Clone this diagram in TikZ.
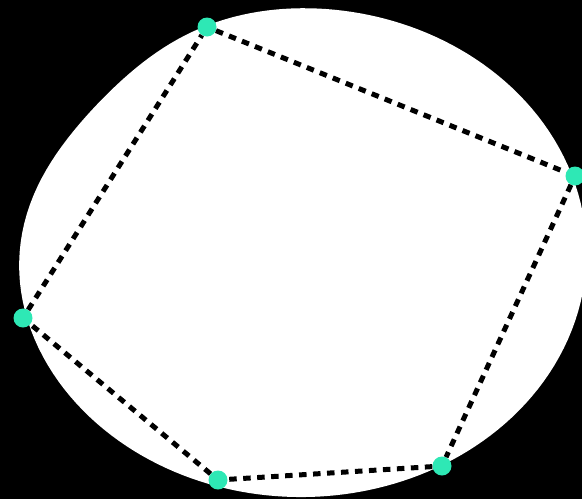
\documentclass[tikz,border=0pt]{standalone}
\usepackage{xcolor}
\usepackage{tikz}
\usetikzlibrary{positioning, calc}

\definecolor{mint}{RGB}{46,232,181}

\begin{document}
\begin{tikzpicture}[
  x=1pt, y=-1pt,
  dot/.style={circle, fill=mint, inner sep=0pt, minimum size=19pt},
  dashline/.style={line width=5pt, dash pattern=on 7.5pt off 6.5pt},
  declare function={
    erad(\t)=698.2/sqrt((2.445*cos(\t))^2+(2.855*sin(\t))^2);
    brad(\t)=erad(\t)*(1-0.064*exp(-((\t-214)/28)^2));
  }
]
  % Background
  \fill[black] (0,0) rectangle (582,499);
  \useasboundingbox (0,0) rectangle (582,499);
  \clip (0,0) rectangle (582,499);

  % White blob (ellipse, flattened at top left)
  \fill[white] plot[domain=34:394, samples=181, variable=\t]
    ({301+brad(\t)*cos(\t)}, {252.5+brad(\t)*sin(\t)}) -- cycle;

  % Corner dots
  \node[dot] (top)    at (207,27)  {};
  \node[dot] (right)  at (575,176) {};
  \node[dot] (lowr)   at (442,466) {};
  \node[dot] (lowl)   at (218,480) {};
  \node[dot] (left)   at (23,318)  {};

  % Dashed edges
  \draw[dashline] (top) -- (right);
  \draw[dashline] (right) -- (lowr);
  \draw[dashline] (lowr) -- (lowl);
  \draw[dashline] (lowl) -- (left);
  \draw[dashline] (left) -- (top);

\end{tikzpicture}
\end{document}
